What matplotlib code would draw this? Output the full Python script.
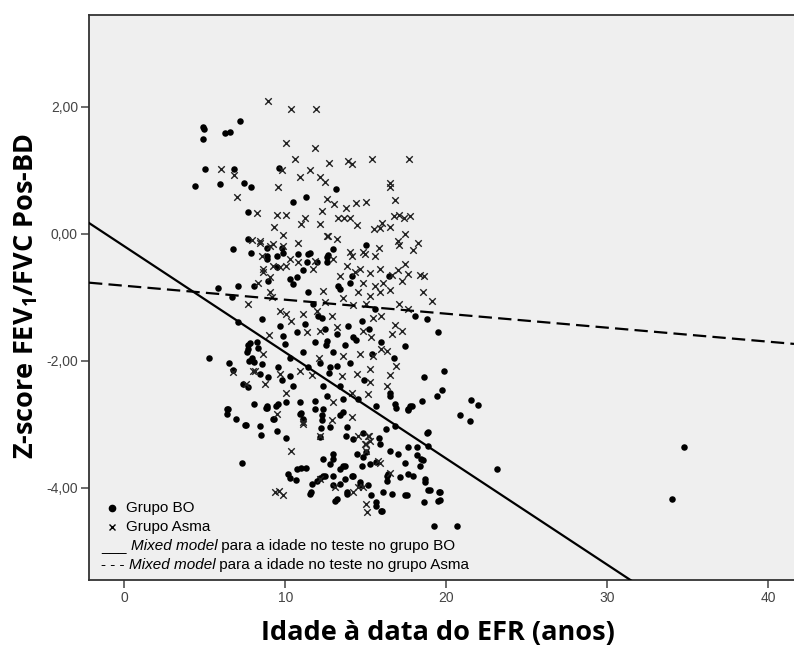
import matplotlib
matplotlib.use('Agg')
import matplotlib.pyplot as plt
import numpy as np
from matplotlib.ticker import FuncFormatter

# Age at lung function test (years) and post-BD FEV1/FVC z-score, BO group
bo_age = [4.86, 4.94, 4.90, 6.24, 6.55, 7.19, 5.02, 6.82, 4.38, 5.95, 7.42, 7.86, 9.62, 10.47, 11.29,
          7.65, 7.69, 6.76, 7.84, 13.12, 15.04, 12.93, 8.83, 9.76, 11.52, 12.66,
          8.83, 9.45, 10.80, 11.32, 11.94, 12.56, 12.56, 13.39, 14.00,
          5.83, 7.07, 8.04, 6.66, 8.52, 7.07, 5.27, 6.51, 6.76, 7.69, 7.59, 7.90, 8.21, 8.52,
          8.42, 8.93, 7.69, 8.04, 6.45, 8.87, 9.55, 9.66, 9.83, 9.97, 9.55, 9.76, 10.28, 10.48,
          10.70, 10.28, 11.10, 10.48, 10.28, 11.42, 11.69, 11.21, 11.83, 11.42, 12.14, 12.52,
          12.35, 12.56, 11.83, 10.90, 10.07, 12.04, 8.93, 9.45, 8.83, 10.70, 11.10, 11.42, 9.86,
          7.80, 7.65, 7.75, 8.05, 8.30,
          16.45, 18.04, 18.77, 19.49, 17.42, 16.74, 15.97, 15.56, 14.73, 14.21, 13.18, 12.56,
          13.70, 12.97, 14.00, 13.18, 12.76, 19.84, 18.62, 19.70, 19.43, 16.49, 16.53, 16.80,
          17.73, 18.46, 14.52, 13.39, 15.66, 12.25, 12.45, 13.28, 14.11,
          14.40, 13.90, 15.20, 15.40, 14.90, 13.60, 12.70,
          17.63, 17.84, 21.52, 21.98, 20.86, 21.46, 18.87, 18.87, 18.15, 18.40, 17.42, 23.12,
          18.66, 18.66, 17.53, 18.60, 18.98, 19.55, 19.49, 19.22, 20.67, 34.75, 34.05,
          7.38, 6.35, 6.39, 6.93, 7.55, 8.42, 8.46, 8.83, 9.41, 9.29, 10.03, 7.28, 10.17, 10.70,
          10.28, 11.57, 12.14, 13.18, 13.80, 16.03, 11.10, 11.00, 12.14, 12.25, 12.97, 13.59,
          14.21, 15.04, 15.66, 16.29, 12.97, 14.63, 15.66, 16.07, 16.49, 15.87, 14.21, 14.83,
          7.48, 9.45, 8.79, 9.24, 10.90, 10.65, 11.00, 11.27, 11.63, 11.94, 11.52, 12.19, 11.83,
          12.35, 12.45,
          12.25, 12.76, 13.59, 13.80, 13.76, 13.39, 15.83, 16.24, 17.01, 17.63, 18.15, 18.56,
          18.35, 12.97, 12.76, 12.35, 13.39, 13.70, 14.11, 14.73, 14.42, 14.83, 15.25, 16.39,
          16.29, 17.11, 17.63, 17.94, 12.97, 12.35, 13.39, 13.70, 14.63, 15.14, 15.35, 16.60,
          17.42, 18.87, 19.60, 19.60, 13.07, 13.80, 15.62, 15.97, 18.77, 17.63, 16.90, 16.80]
bo_z = [1.67, 1.64, 1.49, 1.58, 1.60, 1.77, 1.01, 1.01, 0.75, 0.78, 0.80, 0.74, 1.04, 0.49, 0.58,
        0.34, -0.09, -0.24, -0.30, 0.71, -0.18, -0.24, -0.22, -0.22, -0.30, -0.34,
        -0.40, -0.35, -0.32, -0.45, -0.45, -0.37, -0.45, -0.87, -0.77,
        -0.85, -0.82, -0.82, -1.00, -1.34, -1.39, -1.96, -2.03, -2.14, -1.76, -1.87, -1.95, -1.71, -2.05,
        -2.21, -2.25, -2.42, -2.68, -2.76, -2.71, -2.68, -1.46, -1.61, -1.74, -2.10, -2.31, -2.24, -2.39,
        -1.55, -1.95, -1.87, -0.79, -0.72, -0.92, -1.11, -1.42, -1.71, -2.10, -2.03, -1.76,
        -2.39, -2.55, -2.63, -2.65, -2.65, -1.29, -0.74, -0.53, -0.35, -0.69, -0.58, -0.32, -0.30,
        -1.72, -1.82, -2.00, -2.02, -1.80,
        -0.66, -1.29, -1.34, -1.54, -1.77, -1.95, -1.71, -1.19, -1.37, -1.63, -1.58, -1.69,
        -1.76, -1.87, -2.03, -2.08, -2.10, -2.16, -2.26, -2.46, -2.56, -2.50, -2.55, -2.68,
        -2.71, -2.63, -2.60, -2.39, -2.71, -1.32, -1.50, -0.82, -0.66,
        -1.68, -1.45, -1.50, -1.90, -2.30, -2.60, -2.20,
        -2.77, -2.72, -2.61, -2.69, -2.86, -2.95, -3.12, -3.34, -3.49, -3.55, -3.61, -3.70,
        -3.86, -3.91, -4.12, -4.23, -4.04, -4.06, -4.20, -4.60, -4.60, -3.35, -4.17,
        -2.37, -2.76, -2.84, -2.91, -3.01, -3.02, -3.17, -2.75, -2.71, -2.91, -3.22, -3.61, -3.79, -3.70,
        -3.84, -4.07, -3.84, -4.17, -4.07, -4.37, -2.92, -2.83, -3.20, -2.86, -3.55, -3.65,
        -3.81, -3.44, -3.60, -3.81, -3.96, -3.96, -4.28, -4.07, -3.42, -3.31, -3.23, -3.13,
        -3.01, -3.10, -2.74, -2.92, -2.84, -3.88, -3.69, -3.68, -3.94, -3.89, -4.09, -3.06, -2.76,
        -2.76, -3.81,
        -2.94, -3.05, -2.81, -3.05, -3.19, -2.86, -3.22, -3.07, -3.47, -3.35, -3.36, -3.56,
        -3.65, -3.46, -3.62, -3.55, -3.70, -3.65, -3.81, -3.65, -3.47, -3.52, -3.62, -3.78,
        -3.89, -3.83, -3.78, -3.81, -3.81, -3.81, -3.94, -3.86, -3.91, -3.96, -4.12, -4.10,
        -4.12, -4.04, -4.07, -4.19, -4.20, -4.10, -4.23, -4.37, -3.13, -2.76, -2.74, -3.02]

# Same variables for the asthma group
asma_age = [8.93, 10.32, 11.89, 10.07, 11.81, 10.59, 5.97, 6.82, 9.76, 11.50, 10.92, 12.14, 12.45,
            9.55, 7.00, 12.56, 8.21, 9.49, 10.03, 11.21, 11.00, 12.14, 9.30, 9.86, 12.25, 12.56,
            7.90, 8.42, 10.80, 9.04, 9.86, 8.42, 9.24, 8.62, 9.04,
            8.52, 9.24, 10.07, 11.73,
            12.72, 13.90, 14.17, 15.39, 17.69, 16.51, 16.51, 13.01, 14.38, 15.04, 16.80, 13.76,
            13.28, 13.63, 14.00, 14.42, 15.50, 15.87, 16.03, 16.49, 16.74, 17.07, 17.36, 17.73,
            12.66, 13.18, 17.44, 17.01, 17.07, 18.27, 17.94, 15.83, 14.00, 14.83,
            7.69, 8.31, 8.58, 9.04, 9.66, 10.07, 10.38, 9.00, 8.62, 8.11, 6.76, 7.55, 8.73, 10.07,
            9.66, 10.90, 10.28, 10.80, 11.83, 9.66, 12.35, 12.45, 11.94, 11.10, 11.32, 12.14,
            12.10, 11.63, 9.14,
            17.42, 17.00, 17.63, 18.35, 18.60, 18.52, 19.08, 15.91, 16.60, 17.22, 16.08, 15.56,
            14.83, 14.32, 13.80, 13.39, 14.63, 15.25, 13.59, 14.52, 15.25, 15.87, 16.49, 14.21,
            15.04, 17.07, 17.63, 12.87, 15.45, 15.97, 16.80, 17.22, 16.60, 14.83, 15.35, 13.18,
            15.97, 16.29, 15.45, 14.63, 13.59, 16.86, 15.25, 16.53, 13.49, 14.42, 15.25, 16.29,
            14.11, 15.14, 12.97, 12.97, 14.11, 14.94, 15.56,
            9.45, 11.10, 10.38, 9.35, 9.86, 15.14, 15.04, 15.76, 13.07, 15.04, 15.10, 14.52,
            8.00, 11.10, 9.60, 12.14, 12.87, 14.52, 15.21, 14.94, 15.25, 15.87, 15.04, 16.49,
            14.21, 14.83, 14.11, 12.14]
asma_z = [2.09, 1.96, 1.96, 1.42, 1.34, 1.17, 1.01, 0.92, 1.00, 1.00, 0.89, 0.89, 0.81,
          0.74, 0.57, 0.54, 0.32, 0.29, 0.29, 0.24, 0.15, 0.15, 0.10, -0.02, 0.36, -0.03,
          -0.10, -0.15, -0.15, -0.19, -0.19, -0.11, -0.17, -0.56, -0.69,
          -0.35, -0.51, -0.51, -0.56,
          1.11, 1.15, 1.10, 1.18, 1.18, 0.79, 0.73, 0.47, 0.48, 0.49, 0.53, 0.40,
          0.24, 0.24, 0.25, 0.13, 0.07, 0.09, 0.17, 0.11, 0.28, 0.30, 0.25, 0.27,
          -0.03, -0.09, -0.01, -0.11, -0.18, -0.15, -0.25, -0.22, -0.29, -0.29,
          -1.11, -0.77, -0.61, -0.92, -1.21, -1.27, -1.37, -1.60, -1.89, -2.16, -2.18, -2.37, -2.37, -2.50,
          -2.21, -2.16, -0.40, -0.45, -0.43, -0.53, -0.90, -1.08, -1.21, -1.27, -1.55, -1.53,
          -1.95, -2.22, -1.00,
          -0.48, -0.57, -0.64, -0.65, -0.67, -0.92, -1.06, -0.56, -0.65, -0.74, -0.77, -0.82,
          -0.77, -0.61, -0.51, -0.66, -0.56, -0.62, -1.02, -0.92, -0.98, -0.92, -0.88, -1.12,
          -1.11, -1.10, -1.19, -1.29, -1.32, -1.29, -1.44, -1.53, -1.58, -1.53, -1.63, -1.47,
          -1.82, -1.84, -1.92, -1.89, -1.92, -2.08, -2.13, -2.22, -2.24, -2.21, -2.34, -2.39,
          -2.50, -2.52, -2.65, -0.40, -0.35, -0.32, -0.35,
          -2.84, -3.00, -3.42, -4.07, -4.12, -3.18, -3.31, -3.57, -3.99, -4.25, -4.38, -3.99,
          -2.16, -2.97, -4.05, -3.86, -2.94, -3.18, -3.18, -3.31, -3.26, -3.61, -3.42, -3.76,
          -4.07, -3.99, -2.89, -3.18]

# Mixed model fits: (intercept, slope per year of age)
bo_model = (-0.20, -0.167)
asma_model = (-0.82, -0.022)

x_ticks = [0, 10, 20, 30, 40]
y_ticks = [-4, -2, 0, 2]

plt.rcParams['font.family'] = ['Liberation Sans', 'DejaVu Sans']
plt.rcParams['mathtext.default'] = 'regular'

fig = plt.figure(figsize=(7.94, 6.46), dpi=100)
ax = fig.add_axes([89 / 794, 66 / 646, 705 / 794, 565 / 646])
ax.set_facecolor('#efefef')

ax.set_xlim(-2.2, 41.6)
ax.set_ylim(-5.45, 3.44)

# Scatter of both groups
ax.scatter(bo_age, bo_z, s=22, marker='o', color='black', linewidths=0, zorder=3)
ax.scatter(asma_age, asma_z, s=22, marker='x', color='#222222', linewidths=1.0, zorder=3)

# Model lines across the whole x range
xs = np.array(ax.get_xlim())
ax.plot(xs, bo_model[0] + bo_model[1] * xs, color='black', lw=1.6, zorder=4)
ax.plot(xs, asma_model[0] + asma_model[1] * xs, color='black', lw=1.6,
        dashes=(6, 2.8), zorder=4)

# Axes styling
for side in ['top', 'left', 'bottom']:
    ax.spines[side].set_color('#333333')
    ax.spines[side].set_linewidth(1.3)
ax.spines['right'].set_visible(False)

ax.set_xticks(x_ticks)
ax.set_yticks(y_ticks)
ax.yaxis.set_major_formatter(FuncFormatter(lambda v, pos: f'{v:.2f}'.replace('.', ',')))
ax.tick_params(direction='out', length=6, width=1.1, color='#444444',
               labelsize=10, labelcolor='#444444', pad=2)

label_font = dict(family='Open Sans', weight='bold', size=19.5, color='black')
ax.set_xlabel('Idade à data do EFR (anos)', **label_font)
ax.set_ylabel('Z-score FEV$_1$/FVC Pos-BD', **label_font)
ax.xaxis.set_label_coords((438 - 89) / 705, (580 - 620) / 565)
ax.yaxis.set_label_coords((40 - 89) / 705, (580 - 296) / 565)

# Legend written out as text, markers drawn in axes coordinates
leg_size = 11
ax.plot([0.033], [0.127], marker='o', ms=4.5, color='black', transform=ax.transAxes, clip_on=False)
ax.plot([0.033], [0.094], marker='x', ms=4.8, mew=1.0, color='black', transform=ax.transAxes,
        clip_on=False)
ax.text(0.052, 0.127, 'Grupo BO', transform=ax.transAxes, fontsize=leg_size, va='center')
ax.text(0.052, 0.094, 'Grupo Asma', transform=ax.transAxes, fontsize=leg_size, va='center')

for y, prefix, group in [(0.060, '___ ', 'BO'), (0.0265, '- - - ', 'Asma')]:
    t1 = ax.text(0.017, y, prefix, transform=ax.transAxes, fontsize=leg_size, va='center')
    t2 = ax.annotate('Mixed model', xy=(1, 0), xycoords=t1, va='bottom', ha='left',
                     fontsize=leg_size, style='italic')
    ax.annotate(' para a idade no teste no grupo ' + group, xy=(1, 0), xycoords=t2,
                va='bottom', ha='left', fontsize=leg_size)

fig.savefig('out.png', dpi=100, facecolor='white')
